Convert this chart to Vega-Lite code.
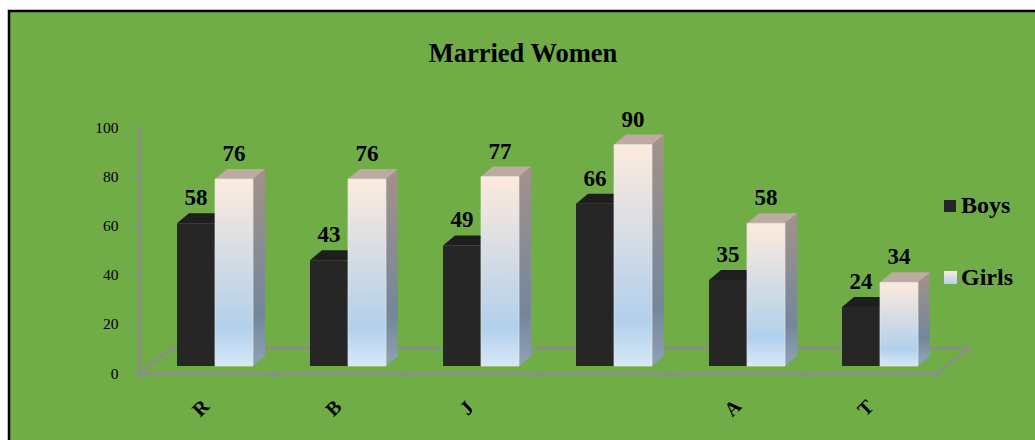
{
"$schema":"https://vega.github.io/schema/vega-lite/v6.json",
"width":798,"height":246,
"autosize":"none",
"padding":{"left":139,"top":127,"right":98,"bottom":67},
"background":"#ffffff",
"view":{"stroke":null},
"title":{"text":"Married Women","anchor":"middle","frame":"group","dx":-15,"offset":-61,"font":"Liberation Serif","fontSize":26.5,"fontWeight":"bold","color":"#000000","zindex":1},
"data":{"values":[
{"group":"R","series":"Boys","value":58},{"group":"R","series":"Girls","value":76},
{"group":"B","series":"Boys","value":43},{"group":"B","series":"Girls","value":76},
{"group":"J","series":"Boys","value":49},{"group":"J","series":"Girls","value":77},
{"group":" ","series":"Boys","value":66},{"group":" ","series":"Girls","value":90},
{"group":"A","series":"Boys","value":35},{"group":"A","series":"Girls","value":58},
{"group":"T","series":"Boys","value":24},{"group":"T","series":"Girls","value":34}
]},
"encoding":{
"x":{"field":"group","type":"nominal","sort":null,"title":null,
"scale":{"domain":["R","B","J"," ","A","T"],"paddingInner":0,"paddingOuter":0},
"axis":{"zindex":1,"tickBand":"extent","domainColor":"#8c8c8c","domainWidth":2.4,"tickColor":"#8c8c8c","tickWidth":2,"tickSize":5,"labelAngle":-45,"labelAlign":"center","labelBaseline":"middle","labelPadding":30,"labelOffset":-5,"labelFont":"Liberation Serif","labelFontSize":20,"labelFontWeight":"bold","labelColor":"#000000"}},
"y":{"field":"value","type":"quantitative","title":null,
"scale":{"domain":[0,100],"nice":false},
"axis":{"zindex":1,"grid":false,"values":[0,20,40,60,80,100],"domainColor":"#8c8c8c","domainWidth":2.4,"tickColor":"#8c8c8c","tickWidth":2,"tickSize":5,"labelPadding":16,"labelFont":"Liberation Serif","labelFontSize":15.5,"labelColor":"#000000"}}
},
"layer":[
{"transform":[{"filter":"datum.group==='R' && datum.series==='Boys'"}],
"mark":{"type":"point","filled":true,"size":4,"opacity":1,"fill":"#70ad47","stroke":"#000000","strokeWidth":2.5,"shape":"M-196.5 -362L835 -362L835 72L-196.5 72Z"},
"encoding":{"y":{"datum":0}}},
{"transform":[{"filter":"datum.group==='R' && datum.series==='Boys'"}],
"mark":{"type":"point","filled":false,"size":4,"opacity":1,"stroke":"#8c8c8c","strokeWidth":2.4,"shape":"M-66.5 0L-33 -25L764 -25L731.5 0"},
"encoding":{"y":{"datum":0}}},
{"transform":[{"filter":"datum.group==='T' && datum.series==='Girls'"}],
"mark":{"type":"point","filled":true,"size":4,"opacity":1,"shape":"M73.5 -102L86.5 -102L86.5 -89L73.5 -89Z",
"fill":{"gradient":"linear","x1":0,"y1":0,"x2":0,"y2":1,"stops":[{"offset":0,"color":"#fdeadd"},{"offset":1,"color":"#b1d0ec"}]}},
"encoding":{"y":{"datum":0}}},
{"transform":[{"filter":"datum.series==='Girls'"}],
"mark":{"type":"bar","width":12,"xOffset":53.5,"yOffset":-17,"y2Offset":-17,
"fill":{"gradient":"linear","x1":0,"y1":0,"x2":0,"y2":1,"stops":[{"offset":0,"color":"#a39288"},{"offset":0.78,"color":"#73879c"},{"offset":1,"color":"#8a9cb0"}]}}},
{"transform":[{"filter":"datum.series==='Girls'"}],
"mark":{"type":"point","filled":true,"size":4,"opacity":1,"fill":"#8c9eb2","yOffset":-7,"xOffset":28.5,"shape":"M19 0L19 -10L31 -10Z"},
"encoding":{"y":{"datum":0}}},
{"transform":[{"filter":"datum.series==='Boys'"}],
"mark":{"type":"point","filled":true,"size":4,"opacity":1,"fill":"#1e1e1e","yOffset":-7,"xOffset":-9.5,"shape":"M-19 0L-7 -10L31 -10L19 0Z"}},
{"transform":[{"filter":"datum.series==='Girls'"}],
"mark":{"type":"point","filled":true,"size":4,"opacity":1,"fill":"#bdaaa0","yOffset":-7,"xOffset":28.5,"shape":"M-19 0L-7 -10L31 -10L19 0Z"}},
{"transform":[{"filter":"datum.series==='Boys'"}],
"mark":{"type":"bar","width":38,"xOffset":-9.5,"yOffset":-7,"y2Offset":-7},
"encoding":{
"color":{"field":"series","type":"nominal","title":null,
"scale":{"domain":["Boys","Girls"],"range":["#262626","transparent"]},
"legend":{"orient":"none","legendX":799,"legendY":67,"zindex":1,"symbolType":"square","symbolSize":144,"symbolStrokeWidth":0,"symbolOpacity":1,"rowPadding":48,"labelFont":"Liberation Serif","labelFontSize":24,"labelFontWeight":"bold","labelColor":"#000000","labelOffset":-1}}}},
{"transform":[{"filter":"datum.series==='Girls'"}],
"mark":{"type":"bar","width":38,"xOffset":28.5,"yOffset":-7,"y2Offset":-7,"stroke":"#e4e6e6","strokeWidth":0.7,
"fill":{"gradient":"linear","x1":0,"y1":0,"x2":0,"y2":1,"stops":[{"offset":0,"color":"#fdeadd"},{"offset":0.8,"color":"#b1d0ec"},{"offset":1,"color":"#d8e8f7"}]}}},
{"transform":[{"filter":"datum.series==='Boys'"}],
"mark":{"type":"text","dx":-9.5,"dy":-25,"baseline":"alphabetic","align":"center","font":"Liberation Serif","fontSize":23,"fontWeight":"bold","color":"#000000"},
"encoding":{"text":{"field":"value","type":"quantitative"}}},
{"transform":[{"filter":"datum.series==='Girls'"}],
"mark":{"type":"text","dx":28.5,"dy":-25,"baseline":"alphabetic","align":"center","font":"Liberation Serif","fontSize":23,"fontWeight":"bold","color":"#000000"},
"encoding":{"text":{"field":"value","type":"quantitative"}}}
]
}
